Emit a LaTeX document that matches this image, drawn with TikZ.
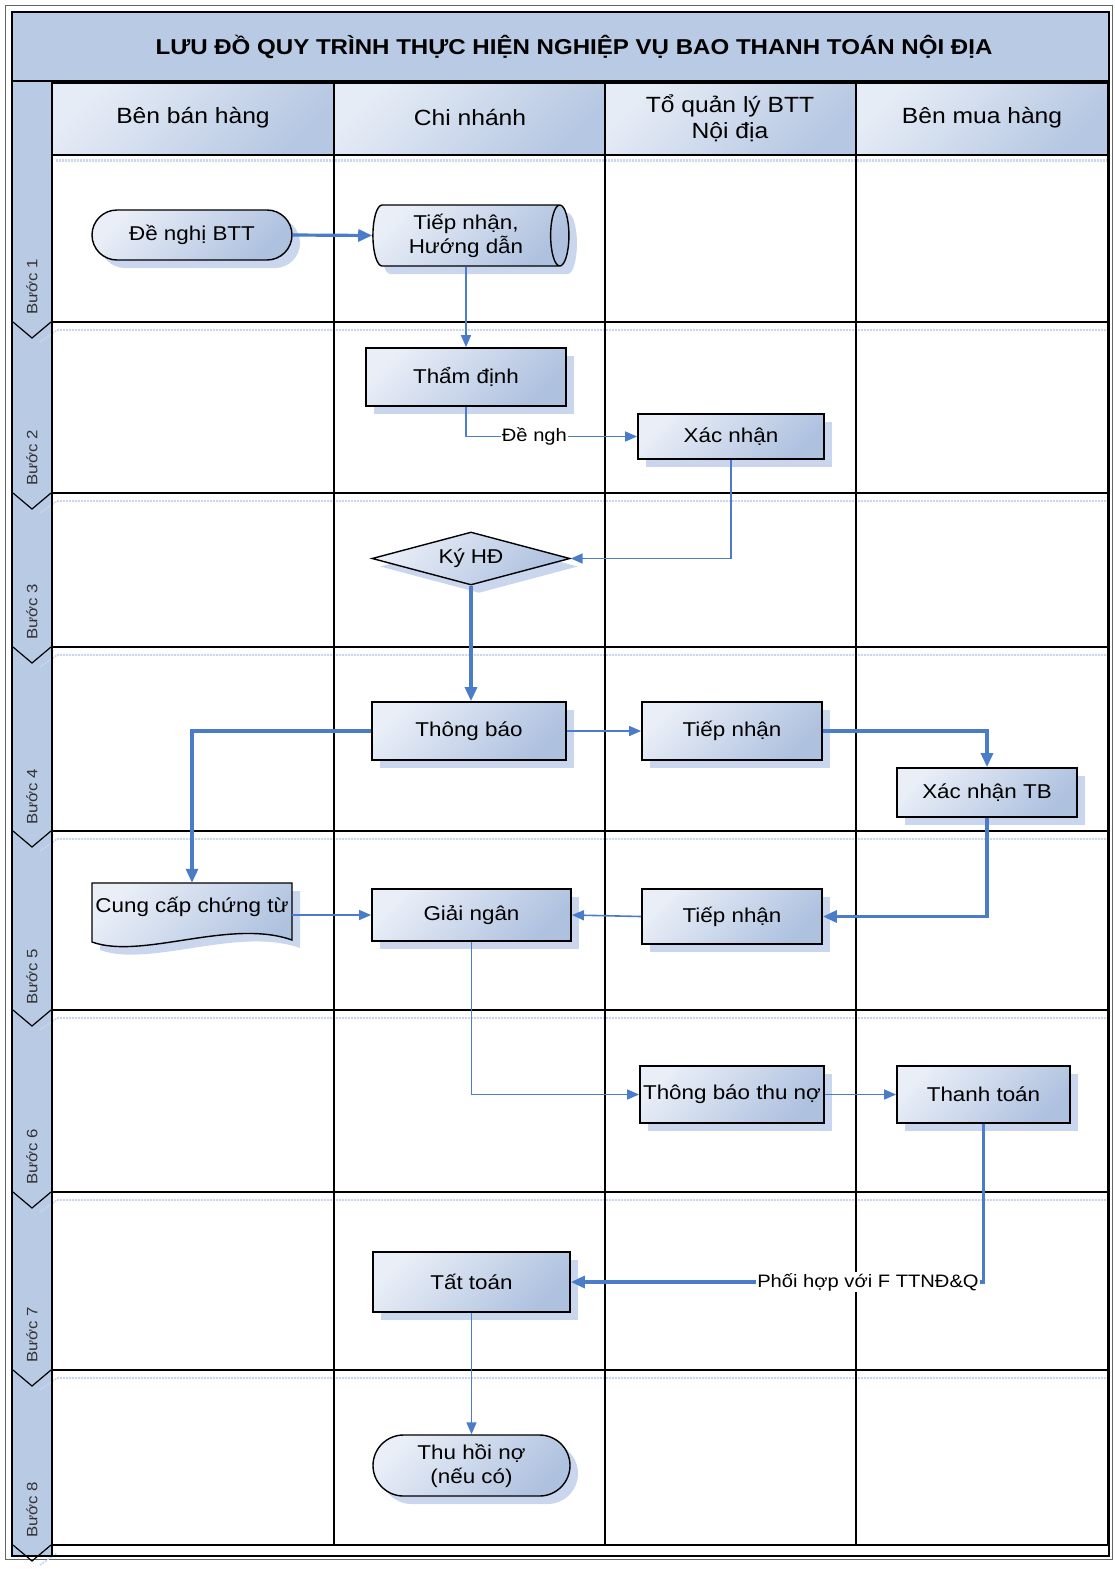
\documentclass[tikz,border=0pt]{standalone}
\usepackage{fontspec}
\setmainfont[FakeStretch=1.12]{Liberation Sans}
\usetikzlibrary{shapes.geometric,shapes.misc,shadows,arrows.meta,calc}

\definecolor{bandblue}{HTML}{B9CAE4}
\definecolor{hdlight}{HTML}{E6ECF6}
\definecolor{hddark}{HTML}{B5C7E2}
\definecolor{boxlight}{HTML}{E9EEF7}
\definecolor{boxdark}{HTML}{AEC1DF}
\definecolor{flow}{HTML}{4A7CC9}
\definecolor{shadowblue}{HTML}{C9D6EE}

\begin{document}
\begin{tikzpicture}[x=1pt,y=-1pt,
  nodefont/.style={font=\fontsize{20}{24}\selectfont},
  boxfill/.style={top color=boxlight, bottom color=boxdark, shading angle=45},
  boxshadow/.style={drop shadow={shadow xshift=8pt, shadow yshift=-8pt, fill=shadowblue, opacity=1}},
  proc/.style={rectangle, draw=black, line width=1.8pt, boxfill, boxshadow, nodefont, align=center, inner sep=0pt},
  term/.style={rounded rectangle, draw=black, line width=1.4pt, boxfill, boxshadow, nodefont, align=center, inner sep=0pt},
  drum/.style={cylinder, shape aspect=0.42, draw=black, line width=1.4pt, boxfill, boxshadow, nodefont, align=center, inner sep=0pt},
  decision/.style={diamond, aspect=3.7, draw=black, line width=1.4pt, boxfill, boxshadow, nodefont, align=center, inner sep=0pt},
  thin flow/.style={draw=flow, line width=1.6pt, -{Triangle[length=12pt,width=10pt]}},
  thick flow/.style={draw=flow, line width=3.2pt, -{Triangle[length=14pt,width=12pt]}},
  elabel/.style={fill=white, inner sep=1pt, font=\fontsize{18}{21}\selectfont},
  lanehead/.style={font=\fontsize{22}{26}\selectfont, align=center},
  steplabel/.style={font=\fontsize{15}{18}\selectfont, text=black!80, rotate=90},
  gridline/.style={draw=black, line width=1.5pt},
  rowshadow/.style={draw=shadowblue, line width=1.6pt, dash pattern=on 2pt off 1pt}
]
\useasboundingbox (0,0) rectangle (1115,1569);

% ---------- frame, title band and step column ----------
\draw[black!60, line width=1pt] (5,5) rectangle (1112,1559);
\fill[bandblue] (12,12) rectangle (1109,81);
\fill[bandblue] (12,81) rectangle (52,1556);
\node[font=\bfseries\fontsize{21.5}{26}\selectfont] (title) at (574,47)
  {LƯU ĐỒ QUY TRÌNH THỰC HIỆN NGHIỆP VỤ BAO THANH TOÁN NỘI ĐỊA};

% ---------- lane headers ----------
\foreach \xa/\xb in {52/334, 334/605, 605/856, 856/1108}
  \path[draw=black, line width=1.5pt, top color=hdlight, bottom color=hddark, shading angle=45]
    (\xa,83) rectangle (\xb,155);
\draw[rowshadow, line width=3pt] (56,160) -- (1108,160);

\node[lanehead] (h1) at (193,118) {Bên bán hàng};
\node[lanehead] (h2) at (470,118) {Chi nhánh};
\node[lanehead] (h3) at (730,118) {Tổ quản lý BTT\\Nội địa};
\node[lanehead] (h4) at (982,118) {Bên mua hàng};

% ---------- grid of lanes and steps ----------
\foreach \y in {322,493,647,831,1010,1192,1370}
  \draw[rowshadow] (40,\y+20) -- (57,\y+8) -- (1108,\y+8);
\draw[rowshadow] (40,1565) -- (57,1553);
\foreach \y in {322,493,647,831,1010,1192,1370,1545}
  \draw[gridline] (52,\y) -- (1108,\y);
\foreach \x in {334,605,856}
  \draw[gridline] (\x,155) -- (\x,1545);
\draw[gridline] (1108,83) -- (1108,1545);
\foreach \y in {322,493,647,831,1010,1192,1370,1545}
  \draw[black, line width=1.2pt, line join=miter] (13,\y) -- (32,\y+16) -- (51,\y);
\draw[black, line width=2.5pt] (52,83) -- (52,1556);
\draw[black, line width=2.5pt] (12,81) -- (1109,81);
\draw[black, line width=2.5pt] (12,12) rectangle (1109,1556);

\foreach \n/\y in {1/287,2/458,3/612,4/797,5/977,6/1157,7/1335,8/1510}
  \node[steplabel] (s\n) at (32,\y) {Bước \n};

% ---------- flow nodes ----------
\node[term, minimum width=200pt, minimum height=50pt] (request) at (192,235) {Đề nghị BTT};
\node[drum, minimum height=196pt, minimum width=61pt] (receive) at (466,235.5) {Tiếp nhận,\\Hướng dẫn};
\node[proc, minimum width=200pt, minimum height=58pt] (appraise) at (466,377) {Thẩm định};
\node[proc, minimum width=186pt, minimum height=45pt] (confirm) at (731,436.5) {Xác nhận};
\node[decision, minimum width=198pt, minimum height=53pt] (sign) at (471,558.5) {Ký HĐ};
\node[proc, minimum width=194pt, minimum height=58pt] (notify) at (469,731) {Thông báo};
\node[proc, minimum width=180pt, minimum height=58pt] (recvA) at (732,731) {Tiếp nhận};
\node[proc, minimum width=180pt, minimum height=49pt] (confirmTB) at (987,792.5) {Xác nhận TB};
\node[proc, minimum width=199pt, minimum height=52pt] (disburse) at (471.5,915) {Giải ngân};
\node[proc, minimum width=180pt, minimum height=55pt] (recvB) at (732,916.5) {Tiếp nhận};
\node[proc, minimum width=184pt, minimum height=57pt] (debtnote) at (732,1094.5) {Thông báo thu nợ};
\node[proc, minimum width=173pt, minimum height=57pt] (pay) at (983.5,1094.5) {Thanh toán};
\node[proc, minimum width=197pt, minimum height=60pt] (settle) at (471.5,1282) {Tất toán};
\node[term, minimum width=197pt, minimum height=61pt] (recover) at (471.5,1465.5) {Thu hồi nợ\\(nếu có)};

% document shape with wavy lower edge
\fill[shadowblue] (100,891) -- (300,891) -- (300,948)
  .. controls (238,926) and (150,968) .. (100,950) -- cycle;
\path[draw=black, line width=1.4pt, boxfill] (92,883) -- (292,883) -- (292,940)
  .. controls (230,918) and (142,960) .. (92,942) -- cycle;
\node[nodefont, inner sep=0pt, minimum width=200pt, minimum height=48pt] (docs) at (192,907) {Cung cấp chứng từ};

% ---------- connectors ----------
\draw[thick flow] (request.east) -- (receive.west);
\draw[thin flow] (receive.south -| appraise.north) -- (appraise.north);
\draw[thin flow] (appraise.south) |- node[elabel, pos=0.7] (lblA) {Đề ngh} (confirm.west);
\draw[thin flow] (confirm.south) |- (sign.east);
\draw[thick flow] (sign.south) -- (notify.north -| sign.south);
\draw[thick flow] (notify.west) -| (docs.north);
\draw[thin flow] (notify.east) -- (recvA.west);
\draw[thick flow] (recvA.east) -| (confirmTB.north);
\draw[thick flow] (confirmTB.south) |- (recvB.east);
\draw[thin flow] (recvB.west) -- (disburse.east);
\draw[thin flow] (docs.east |- disburse.west) -- (disburse.west);
\draw[thin flow] (disburse.south) |- (debtnote.west);
\draw[thin flow] (debtnote.east) -- (pay.west);
\draw[thick flow] (pay.south) |- node[elabel, pos=0.64] (lblB) {Phối hợp với F TTNĐ\&Q} (settle.east);
\draw[thin flow] (settle.south) -- (recover.north);
\end{tikzpicture}
\end{document}
